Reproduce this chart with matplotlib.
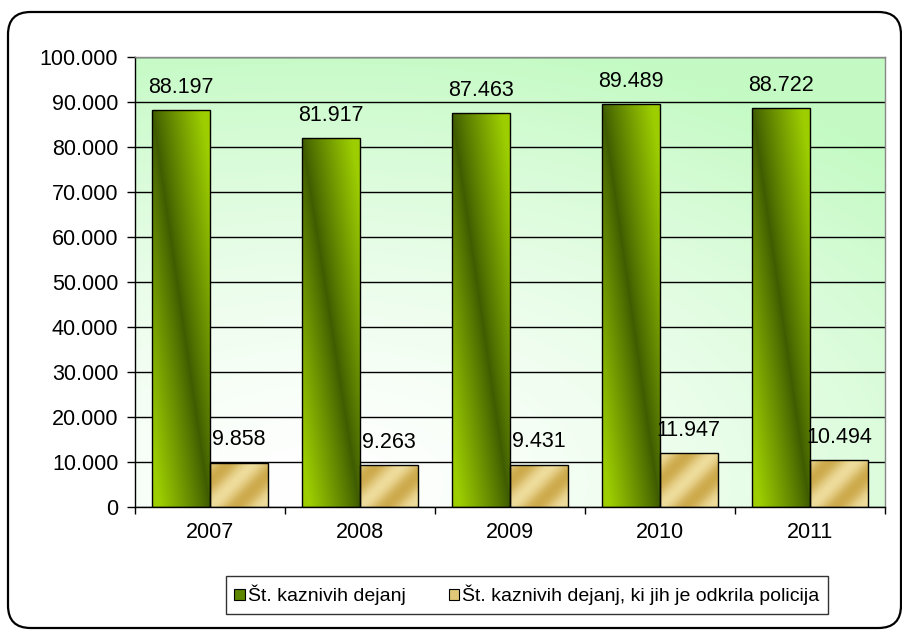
import numpy as np
import matplotlib
matplotlib.use("Agg")
import matplotlib.pyplot as plt
from matplotlib.patches import FancyBboxPatch, Patch
from matplotlib.colors import to_rgb

plt.rcParams['font.family'] = ['Liberation Sans', 'DejaVu Sans']

years = ["2007", "2008", "2009", "2010", "2011"]
dejanja = [88197, 81917, 87463, 89489, 88722]
odkrila = [9858, 9263, 9431, 11947, 10494]
series_names = ["Št. kaznivih dejanj", "Št. kaznivih dejanj, ki jih je odkrila policija"]
yticks = list(range(0, 100001, 10000))


def fmt(v):
    return f"{v:,}".replace(",", ".")


fig = plt.figure(figsize=(9.03, 6.30), dpi=100)
fig.patch.set_facecolor("white")

# outer rounded frame
frame = FancyBboxPatch((8 / 903, 2 / 630), 893 / 903, 616 / 630,
                       boxstyle="round,pad=0,rounding_size=0.025",
                       transform=fig.transFigure, facecolor="none",
                       edgecolor="black", linewidth=1.6, mutation_aspect=903 / 630)
fig.patches.append(frame)

ax = fig.add_axes([135 / 903, 1 - 507 / 630, 750 / 903, 450 / 630])

# background gradient
ny, nx = 200, 300
yy, xx = np.mgrid[0:1:ny * 1j, 0:1:nx * 1j]  # yy 0 bottom
d = np.sqrt(((xx - 0.25) * 1.0) ** 2 + ((yy - 0.05) * 1.1) ** 2)
t = np.clip(d / 1.1, 0, 1) ** 1.4
white = np.array([1.0, 1.0, 1.0])
green = np.array(to_rgb("#c4fac4"))
bg = white[None, None, :] * (1 - t[..., None]) + green[None, None, :] * t[..., None]
ax.imshow(bg, extent=(0, 1, 0, 1), origin="lower", transform=ax.transAxes,
          aspect="auto", zorder=0, interpolation="bilinear")

x = np.arange(len(years))
w = 0.385
ax.set_xlim(-0.5, len(years) - 0.5)
ax.set_ylim(0, 100000)

b1 = ax.bar(x - w / 2, dejanja, w, color="#6f9900", edgecolor="black", linewidth=1.0, zorder=3)
b2 = ax.bar(x + w / 2, odkrila, w, color="#d8bc66", edgecolor="black", linewidth=1.0, zorder=3)

gdark = np.array(to_rgb("#3f5c00"))
gbright = np.array(to_rgb("#9dce00"))
gold_d = np.array(to_rgb("#cdaa4c"))
gold_l = np.array(to_rgb("#eedc9c"))

fig.canvas.draw()
for rect in b1:
    x0, y0 = rect.get_x(), rect.get_y()
    x1, y1 = x0 + rect.get_width(), y0 + rect.get_height()
    nv, nu = 120, 60
    v, u = np.mgrid[0:1:nv * 1j, 0:1:nu * 1j]  # v=0 top
    s = np.abs(u - v)
    s = np.clip(s * 1.15, 0, 1) ** 0.9
    img = gdark * (1 - s[..., None]) + gbright * s[..., None]
    im = ax.imshow(img, extent=(x0, x1, y0, y1), origin="upper", aspect="auto",
                   zorder=3.5, interpolation="bilinear")
    im.set_clip_path(rect)

for rect in b2:
    x0, y0 = rect.get_x(), rect.get_y()
    x1, y1 = x0 + rect.get_width(), y0 + rect.get_height()
    p0 = ax.transData.transform((x0, y0))
    p1 = ax.transData.transform((x1, y1))
    wp, hp = p1[0] - p0[0], p1[1] - p0[1]
    nv, nu = max(int(hp), 2), max(int(wp), 2)
    vy, ux = np.mgrid[0:hp:nv * 1j, 0:wp:nu * 1j]  # vy from bottom
    phase = (ux - vy) / 52.0
    s = 0.5 + 0.5 * np.cos(2 * np.pi * phase)
    img = gold_d * (1 - s[..., None]) + gold_l * s[..., None]
    im = ax.imshow(img, extent=(x0, x1, y0, y1), origin="lower", aspect="auto",
                   zorder=3.5, interpolation="bilinear")
    im.set_clip_path(rect)

# redraw edges on top
for rect in list(b1) + list(b2):
    rect.set_zorder(4)
    rect.set_facecolor("none")

for rect, v in zip(b1, dejanja):
    ax.text(rect.get_x() + rect.get_width() / 2, v + 2700, fmt(v), ha="center", va="bottom",
            fontsize=15.5, zorder=5)
for rect, v in zip(b2, odkrila):
    ax.text(rect.get_x() + rect.get_width() / 2, v + 2700, fmt(v), ha="center", va="bottom",
            fontsize=15.5, zorder=5)

ax.set_yticks(yticks)
ax.set_yticklabels([fmt(v) for v in yticks], fontsize=15.5)
ax.yaxis.grid(True, color="black", linewidth=1.0, zorder=1)
ax.set_axisbelow(True)

ax.set_xticks(x)
ax.set_xticklabels(years, fontsize=15.5)
ax.set_xticks(np.arange(len(years) + 1) - 0.5, minor=True)
ax.tick_params(axis="x", which="major", length=0, pad=11)
ax.tick_params(axis="x", which="minor", length=5, width=1, direction="out")
ax.tick_params(axis="y", length=6, width=1, direction="out", pad=6)

ax.spines["left"].set_color("black")
ax.spines["bottom"].set_color("black")
ax.spines["top"].set_color("#888888")
ax.spines["right"].set_color("#888888")
for sp in ax.spines.values():
    sp.set_linewidth(1.0)
    sp.set_zorder(6)

handles = [Patch(facecolor="#5e8600", edgecolor="black", linewidth=0.8),
           Patch(facecolor="#e0c878", edgecolor="black", linewidth=0.8)]
leg = fig.legend(handles, series_names, loc="center", bbox_to_anchor=(527 / 903, 1 - 595 / 630),
                 ncol=2, frameon=True, fancybox=False, fontsize=14, handlelength=0.55,
                 handleheight=0.55, handletextpad=0.15, columnspacing=2.2, borderpad=0.45)
leg.get_frame().set_edgecolor("black")
leg.get_frame().set_linewidth(1.0)

fig.savefig("out.png", dpi=100)
